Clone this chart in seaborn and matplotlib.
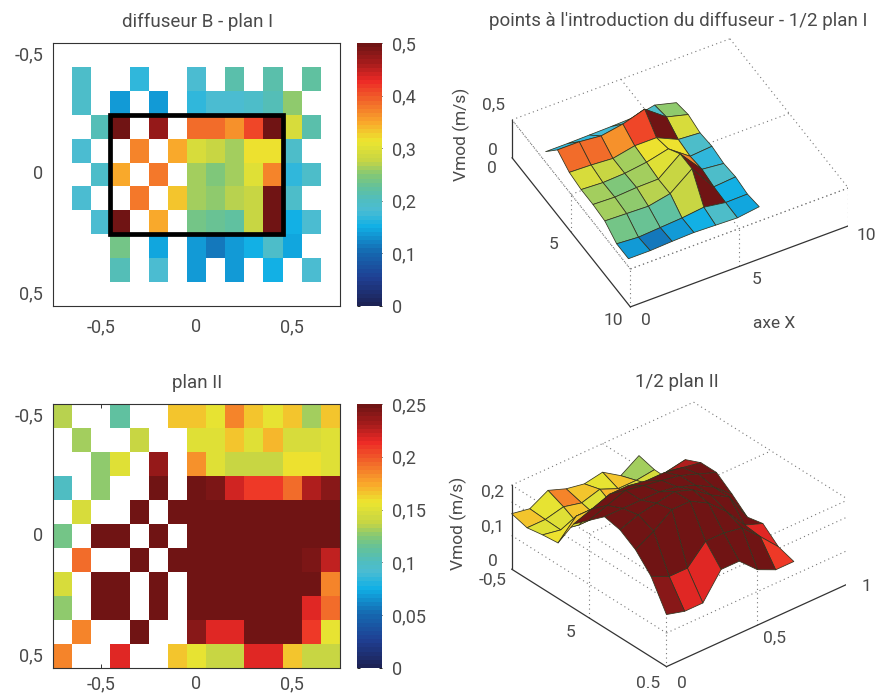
import numpy as np
import pandas as pd
import seaborn as sns
import matplotlib.pyplot as plt
from matplotlib.colors import LinearSegmentedColormap, Normalize
from matplotlib.patches import Rectangle
from mpl_toolkits.mplot3d import proj3d

n = np.nan
col_labels = [round(-0.7 + 0.1 * i, 1) for i in range(15)]
row_labels = [round(-0.5 + 0.1 * i, 1) for i in range(11)]

plan1 = [
    [n, n, n, n, n, n, n, n, n, n, n, n, n, n, n],
    [n, .19, n, n, .165, n, n, .18, n, .215, n, .215, n, .225, n],
    [n, .19, n, .135, n, .135, n, .165, .18, .18, .19, .21, .25, n, n],
    [n, n, .21, .5, n, .47, n, .39, .39, .36, .41, .5, .29, .215, n],
    [n, .18, n, n, .37, n, .35, .29, .28, .26, .32, .32, .19, n, n],
    [n, n, .19, .35, n, .38, n, .26, .245, .26, .30, .37, .165, .19, n],
    [n, .18, n, n, .38, n, .33, .26, .25, .27, .275, .5, .19, n, n],
    [n, n, .18, .5, n, .35, n, .24, .23, .22, .28, .5, .155, .18, n],
    [n, n, n, .24, n, .145, n, .135, .115, .135, .155, .19, .145, n, n],
    [n, n, n, .21, n, .18, n, .135, n, .135, n, .155, n, .18, n],
    [n, n, n, n, n, n, n, n, n, n, n, n, n, n, n],
]
plan2 = [
    [.135, n, n, .11, n, n, .165, .165, .155, .185, .165, .155, .165, .13, .165],
    [n, .13, n, n, .14, n, n, .152, .152, .165, .152, .168, .145, .145, .152],
    [n, n, .125, .15, n, .235, n, .18, .15, .14, .14, .14, .16, .16, .15],
    [.10, n, .125, n, n, .25, n, .25, .245, .22, .21, .21, .195, .23, .24],
    [n, .145, n, n, .25, n, .25, .25, .25, .25, .25, .25, .25, .25, .25],
    [.12, n, .25, .25, n, .25, n, .25, .25, .25, .25, .25, .25, .25, .25],
    [n, .195, n, n, .25, n, .25, .25, .25, .25, .25, .25, .25, .245, .225],
    [.145, n, .25, .25, n, .25, n, .25, .25, .25, .25, .25, .25, .25, .185],
    [.125, n, .25, .25, n, .25, n, .25, .25, .25, .25, .25, .25, .215, .195],
    [n, .185, n, n, .25, n, n, .24, .215, .215, .25, .25, .25, .21, .155],
    [.185, n, n, .215, n, n, .165, .155, .14, .14, .215, .215, .165, .14, .14],
]

# half planes, one row per y, one column per x
surf1_x = [1, 2, 3, 4, 5, 6, 7]
surf1_y = [1, 2, 3, 4, 5, 6, 7, 8]
surf1_z = [
    [.17, .17, .175, .18, .19, .25, .175],
    [.39, .39, .36, .41, .5, .29, .215],
    [.29, .28, .26, .32, .32, .19, .17],
    [.26, .245, .26, .30, .37, .165, .19],
    [.26, .25, .27, .275, .5, .19, .16],
    [.24, .23, .22, .28, .5, .155, .18],
    [.135, .115, .135, .155, .19, .145, .15],
    [.135, .135, .15, .16, .15, .14, .18],
]
surf2_x = [0, .1, .2, .3, .4, .5, .6, .7]
surf2_y = [-.5, -.4, -.3, -.2, -.1, 0, .1, .2, .3, .4, .5]
surf2_z = [
    [.165, .155, .185, .165, .155, .165, .13, .165],
    [.152, .152, .165, .152, .168, .145, .145, .152],
    [.16, .15, .14, .14, .14, .16, .16, .15],
    [.165, .22, .22, .21, .21, .195, .23, .24],
    [.25, .27, .29, .29, .28, .28, .27, .26],
    [.29, .31, .33, .32, .31, .30, .28, .26],
    [.33, .33, .33, .33, .32, .30, .27, .225],
    [.32, .34, .35, .36, .34, .30, .27, .185],
    [.29, .32, .36, .36, .33, .28, .215, .195],
    [.24, .215, .215, .27, .27, .26, .21, .155],
    [.155, .14, .14, .215, .215, .165, .14, .14],
]

jet_stops = [(0, "#1d2356"), (.1, "#1f3f93"), (.2, "#1568b0"), (.3, "#10b0e6"), (.36, "#4abcd3"),
             (.4, "#4fbdc0"), (.45, "#62c19c"), (.5, "#85c874"), (.55, "#c5d545"), (.63, "#ece52f"),
             (.7, "#f9a82b"), (.78, "#f26a2a"), (.86, "#ed2a26"), (.93, "#a61c1c"), (1, "#701414")]
jet_print = LinearSegmentedColormap.from_list("jet_print", jet_stops, N=64)

TXT = "#4a4a4a"
W, H = 885, 693

sns.set_theme(style="white")
plt.rcParams["font.family"] = ["Roboto", "DejaVu Sans"]
plt.rcParams["text.color"] = TXT
plt.rcParams["xtick.color"] = TXT
plt.rcParams["ytick.color"] = TXT

fig = plt.figure(figsize=(W / 100, H / 100), dpi=100, facecolor="white")


def box(left, top, right, bottom):
    return [left / W, 1 - bottom / H, (right - left) / W, (bottom - top) / H]


def heat(values, vmax, top, bottom, ticks, ticklabels, tick_len, xpad):
    ax = fig.add_axes(box(53, top, 340, bottom))
    cax = fig.add_axes(box(357, top, 382, bottom))
    df = pd.DataFrame(values, index=row_labels, columns=col_labels)
    sns.heatmap(df, ax=ax, cbar_ax=cax, cmap=jet_print, vmin=0, vmax=vmax)
    ax.set_xticks([2.5, 7.5, 12.5], ["-0,5", "0", "0,5"], rotation=0, fontsize=13)
    ax.set_yticks([0.5, 5.5, 10.5], ["-0,5", "0", "0,5"], rotation=0, fontsize=13)
    ax.set_xlabel("")
    ax.set_ylabel("")
    ax.tick_params(direction="in", length=tick_len, width=.7, color="#333333", top=tick_len > 0,
                   right=tick_len > 0, bottom=tick_len > 0, left=tick_len > 0)
    ax.tick_params(axis="x", pad=xpad)
    ax.tick_params(axis="y", pad=7)
    for s in ax.spines.values():
        s.set_visible(True)
        s.set_linewidth(.8)
        s.set_color("#333333")
    cax.set_yticks(ticks, ticklabels, fontsize=13)
    cax.tick_params(direction="in", length=2.5, width=.7, color="#222222", left=True, right=True, pad=7)
    return ax


ax1 = heat(plan1, .5, 43, 306, [0, .1, .2, .3, .4, .5], ["0", "0,1", "0,2", "0,3", "0,4", "0,5"], 0, 9)
ax1.add_patch(Rectangle((3, 3), 9, 5, fill=False, edgecolor="black", linewidth=3.4, zorder=5))
ax3 = heat(plan2, .25, 404, 668, [0, .05, .1, .15, .2, .25],
           ["0", "0,05", "0,1", "0,15", "0,2", "0,25"], 3, 5)

fig.text(198 / W, 1 - 22 / H, "diffuseur B - plan I", ha="center", va="center", fontsize=13.5)
fig.text(197 / W, 1 - 383 / H, "plan II", ha="center", va="center", fontsize=13.5)
fig.text(678 / W, 1 - 21 / H, "points à l'introduction du diffuseur - 1/2 plan I",
         ha="center", va="center", fontsize=13.5)
fig.text(677 / W, 1 - 382 / H, "1/2 plan II", ha="center", va="center", fontsize=13.5)


def surface(x, y, z, vmax, left, bot_img, size, elev, azim, aspect, xlim, ylim, zlim,
            xt, yt, zt, xt_lab, yt_lab, zt_lab, xt_off, yt_off, zt_off):
    ax = fig.add_axes([left / W, 1 - bot_img / H, size / W, size / H], projection="3d")
    ax.patch.set_alpha(0)
    ax.set_proj_type("ortho")
    ax.view_init(elev=elev, azim=azim)
    ax.set_box_aspect(aspect, zoom=1)
    ax.set_xlim(*xlim)
    ax.set_ylim(*ylim)
    ax.set_zlim(*zlim)
    ax.set_axis_off()

    X, Y = np.meshgrid(x, y)
    Z = np.array(z)
    colors = jet_print(Normalize(0, vmax)(Z))
    ax.plot_surface(X, Y, Z, facecolors=colors, rstride=1, cstride=1, shade=False,
                    edgecolor="#33331f", linewidth=.55, antialiased=True)

    x0, x1 = xlim
    yb, yf = ylim[1], ylim[0]  # back and front of the box, y is reversed
    z0, z1 = zlim
    dots = dict(color="#777777", lw=.8, ls=(0, (1, 3)), zorder=1)
    # top face and the two open walls
    for p in [(x0, x1, yb, yb), (x1, x1, yb, yf), (x1, x0, yf, yf), (x0, x0, yf, yb)]:
        ax.plot(p[:2], p[2:], [z1, z1], **dots)
    for xv in xt[1:-1]:
        ax.plot([xv, xv], [yb, yf], [z1, z1], **dots)
        ax.plot([xv, xv], [yf, yf], [z0, z1], **dots)
    for yv in yt[1:-1]:
        ax.plot([x0, x1], [yv, yv], [z1, z1], **dots)
        ax.plot([x0, x0], [yv, yv], [z0, z1], **dots)
    for zv in zt[1:]:
        ax.plot([x0, x0], [yb, yf], [zv, zv], **dots)
        ax.plot([x0, x1], [yf, yf], [zv, zv], **dots)
    ax.plot([x0, x0], [yf, yf], [z0, z1], **dots)
    ax.plot([x1, x1], [yf, yf], [z0, z1], **dots)

    solid = dict(color="#333333", lw=.9, zorder=2)
    ax.plot([x0, x1], [yf, yf], [z0, z0], **solid)
    ax.plot([x0, x0], [yb, yf], [z0, z0], **solid)
    ax.plot([x0, x0], [yb, yb], [z0, z1], **solid)

    M = ax.get_proj()

    def label(px, py, pz, txt, off, **kw):
        sx, sy, _ = proj3d.proj_transform(px, py, pz, M)
        ax.annotate(txt, (sx, sy), xytext=off, textcoords="offset pixels", ha="center", va="center",
                    fontsize=12.5, annotation_clip=False, **kw)

    for v, t, o in zip(xt, xt_lab, xt_off):
        label(v, yf, z0, t, o)
    for v, t, o in zip(yt, yt_lab, yt_off):
        label(x0, v, z0, t, o)
    for v, t, o in zip(zt, zt_lab, zt_off):
        label(x0, yb, v, t, o)
    return ax, label


ax2, lab2 = surface(surf1_x, surf1_y, surf1_z, .5, 503.4, 349.6, 344.2, 43.2, -118.5, (248, 248, 52),
                    (0, 10), (10, 0), (0, .5), [0, 5, 10], [0, 5, 10], [0, .5],
                    ["0", "5", "10"], ["0", "5", "10"], ["0", "0,5"],
                    [(16, -14), (17, -13), (18, -10)], [(-20, -11), (-18, -12), (-17, -14)], [(-19, 7), (-19, 14)])
lab2(0, 0, .25, "Vmod (m/s)", (-51, 4), rotation=90)
lab2(5, 10, 0, "axe X", (35, -57))

ax4, lab4 = surface(surf2_x, surf2_y, surf2_z, .25, 504.4, 710, 342, 32.4, -130.4, (239, 239, 99.5),
                    (0, 1), (.5, -.5), (0, .25), [0, .5, 1], [-.5, 0, .5], [0, .1, .2],
                    ["0", "0,5", "1"], ["-0,5", "5", "0.5"], ["0", "0,1", "0,2"],
                    [(15, -17), (17, -13), (18, -3)], [(-19, -11), (-18, -15), (-18, -17)], [(-19, 8), (-19, 8), (-19, 10)])
lab4(0, -.5, .125, "Vmod (m/s)", (-53, 4), rotation=90)

fig.savefig("out.png", dpi=100)
